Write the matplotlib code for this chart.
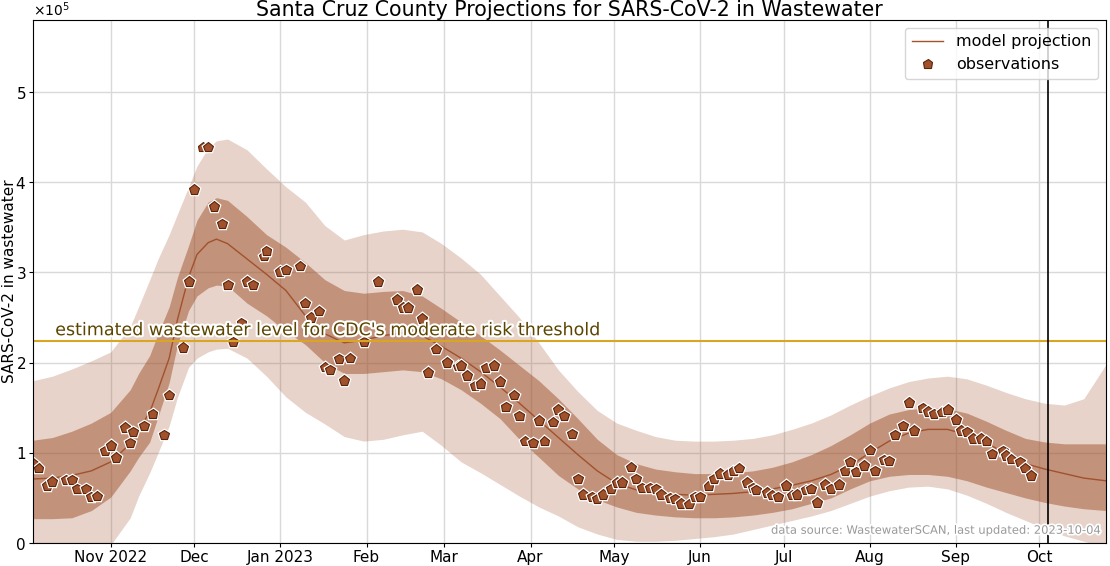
import matplotlib
matplotlib.use("Agg")
import matplotlib.pyplot as plt
import matplotlib.patheffects as pe
import numpy as np
import pandas as pd

# days are counted from this date
start = pd.Timestamp("2022-10-04")
last_update = pd.Timestamp("2023-10-04")
x_end = pd.Timestamp("2023-10-25")

# model projection (values in units of 1e5)
model_day = [0, 7, 14, 21, 28, 35, 38, 42, 45, 49, 52, 56, 59, 63, 66, 70, 77, 84, 91, 98,
             105, 112, 119, 126, 133, 140, 147, 154, 161, 168, 175, 182, 189, 196, 203,
             210, 217, 224, 231, 238, 245, 252, 259, 266, 273, 280, 287, 294, 301, 308,
             315, 322, 329, 336, 343, 350, 357, 364, 371, 378, 386]
model_mid = [0.71, 0.72, 0.75, 0.80, 0.90, 1.10, 1.26, 1.45, 1.70, 2.05, 2.48, 2.95, 3.20,
             3.33, 3.37, 3.32, 3.15, 2.98, 2.80, 2.52, 2.32, 2.22, 2.25, 2.30, 2.33, 2.30,
             2.18, 2.05, 1.90, 1.73, 1.55, 1.36, 1.17, 0.98, 0.80, 0.66, 0.59, 0.56, 0.54,
             0.53, 0.54, 0.55, 0.57, 0.60, 0.64, 0.69, 0.76, 0.86, 1.00, 1.13, 1.22, 1.26,
             1.26, 1.20, 1.11, 0.99, 0.88, 0.82, 0.77, 0.72, 0.69]
inner_hi = [1.14, 1.17, 1.24, 1.33, 1.45, 1.70, 1.88, 2.08, 2.32, 2.62, 2.95, 3.30, 3.58,
            3.78, 3.83, 3.80, 3.62, 3.42, 3.28, 3.11, 2.92, 2.80, 2.77, 2.79, 2.80, 2.74,
            2.60, 2.45, 2.30, 2.14, 1.97, 1.80, 1.60, 1.38, 1.15, 0.98, 0.88, 0.82, 0.79,
            0.77, 0.77, 0.78, 0.80, 0.84, 0.90, 0.98, 1.08, 1.20, 1.33, 1.43, 1.48, 1.50,
            1.49, 1.44, 1.35, 1.25, 1.16, 1.12, 1.10, 1.10, 1.10]
inner_lo = [0.27, 0.27, 0.28, 0.36, 0.51, 0.80, 0.95, 1.12, 1.40, 1.78, 2.20, 2.58, 2.74,
            2.83, 2.86, 2.85, 2.66, 2.52, 2.35, 2.20, 2.00, 1.88, 1.88, 1.90, 1.92, 1.90,
            1.82, 1.70, 1.55, 1.38, 1.15, 0.95, 0.75, 0.60, 0.48, 0.40, 0.34, 0.31, 0.29,
            0.28, 0.28, 0.29, 0.31, 0.34, 0.38, 0.44, 0.50, 0.60, 0.69, 0.74, 0.76, 0.76,
            0.74, 0.69, 0.62, 0.56, 0.50, 0.45, 0.41, 0.38, 0.36]
outer_hi = [1.80, 1.85, 1.93, 2.02, 2.12, 2.40, 2.62, 2.92, 3.15, 3.42, 3.65, 3.95, 4.18,
            4.38, 4.46, 4.48, 4.36, 4.15, 3.95, 3.78, 3.52, 3.36, 3.42, 3.46, 3.48, 3.45,
            3.32, 3.16, 2.98, 2.74, 2.50, 2.22, 1.92, 1.68, 1.47, 1.33, 1.25, 1.18, 1.14,
            1.13, 1.13, 1.14, 1.16, 1.20, 1.26, 1.33, 1.42, 1.53, 1.63, 1.72, 1.79, 1.83,
            1.85, 1.82, 1.75, 1.67, 1.60, 1.55, 1.53, 1.60, 1.98]
outer_lo = [-0.05, -0.05, -0.05, -0.05, -0.02, 0.28, 0.52, 0.78, 1.00, 1.30, 1.62, 1.95,
            2.05, 2.12, 2.15, 2.16, 2.05, 1.85, 1.62, 1.45, 1.32, 1.18, 1.13, 1.15, 1.20,
            1.24, 1.08, 0.90, 0.78, 0.65, 0.52, 0.40, 0.30, 0.18, 0.10, 0.04, 0.02, 0.02,
            0.03, 0.05, 0.07, 0.10, 0.15, 0.20, 0.25, 0.30, 0.36, 0.44, 0.52, 0.58, 0.62,
            0.63, 0.60, 0.53, 0.44, 0.34, 0.25, 0.16, 0.08, 0.02, -0.05]

# observations (values in units of 1e5)
obs_day = [0, 2, 5, 7, 12, 14, 16, 19, 21, 23, 26, 28, 30, 33, 35, 36, 40, 43, 47, 49,
           54, 56, 58, 61, 63, 65, 68, 70, 72, 75, 77, 79, 83, 84, 89, 91, 96, 98, 100,
           103, 105, 107, 110, 112, 114, 119, 124, 131, 133, 135, 138, 140, 142, 145,
           149, 153, 154, 156, 159, 161, 163, 166, 168, 170, 173, 175, 177, 180, 182,
           184, 187, 189, 191, 194, 196, 198, 201, 203, 205, 208, 210, 212, 215, 217,
           219, 222, 224, 226, 229, 231, 233, 236, 238, 240, 243, 245, 247, 250, 252,
           254, 257, 259, 260, 264, 266, 268, 271, 273, 275, 278, 280, 282, 285, 287,
           290, 292, 294, 296, 299, 301, 303, 306, 308, 310, 313, 315, 317, 320, 322,
           324, 327, 329, 332, 334, 336, 338, 341, 343, 345, 349, 350, 352, 355, 357, 359]
obs_val = [0.88, 0.83, 0.64, 0.68, 0.70, 0.70, 0.60, 0.60, 0.51, 0.52, 1.02, 1.08, 0.95,
           1.28, 1.11, 1.23, 1.30, 1.43, 1.20, 1.64, 2.17, 2.90, 3.92, 4.39, 4.39, 3.73,
           3.54, 2.86, 2.23, 2.44, 2.90, 2.86, 3.18, 3.24, 3.01, 3.03, 3.07, 2.66, 2.50,
           2.57, 1.95, 1.92, 2.04, 1.80, 2.05, 2.23, 2.90, 2.70, 2.61, 2.61, 2.81, 2.49,
           1.89, 2.15, 2.00, 1.96, 1.97, 1.86, 1.74, 1.77, 1.94, 1.97, 1.79, 1.51, 1.64,
           1.41, 1.13, 1.11, 1.36, 1.13, 1.34, 1.48, 1.41, 1.21, 0.71, 0.54, 0.51, 0.49,
           0.54, 0.60, 0.67, 0.67, 0.84, 0.71, 0.61, 0.61, 0.60, 0.54, 0.50, 0.49, 0.44,
           0.43, 0.51, 0.51, 0.63, 0.71, 0.77, 0.76, 0.80, 0.83, 0.67, 0.61, 0.59, 0.56,
           0.53, 0.51, 0.64, 0.53, 0.54, 0.59, 0.60, 0.45, 0.65, 0.60, 0.65, 0.80, 0.90,
           0.79, 0.86, 1.03, 0.80, 0.92, 0.91, 1.20, 1.30, 1.56, 1.25, 1.50, 1.46, 1.43,
           1.45, 1.48, 1.37, 1.25, 1.23, 1.16, 1.16, 1.13, 0.99, 1.02, 0.97, 0.93, 0.90,
           0.83, 0.75]

threshold = 2.235

tick_dates = ["2022-11-01", "2022-12-01", "2023-01-01", "2023-02-01", "2023-03-01",
              "2023-04-01", "2023-05-01", "2023-06-01", "2023-07-01", "2023-08-01",
              "2023-09-01", "2023-10-01"]
tick_labels = ["Nov 2022", "Dec", "Jan 2023", "Feb", "Mar", "Apr", "May", "Jun", "Jul",
               "Aug", "Sep", "Oct"]

scale = 1e5
col = "sienna"

mx = start + pd.to_timedelta(model_day, unit="D")
ox = start + pd.to_timedelta(obs_day, unit="D")

fig = plt.figure(figsize=(11.1, 5.66), dpi=100)
ax = fig.add_axes([0.0297, 0.0406, 0.9667, 0.9241])

ax.fill_between(mx, np.array(outer_lo) * scale, np.array(outer_hi) * scale,
                color=col, alpha=0.25, lw=0)
ax.fill_between(mx, np.array(inner_lo) * scale, np.array(inner_hi) * scale,
                color=col, alpha=0.5, lw=0)
ax.plot(mx, np.array(model_mid) * scale, color=col, lw=1.0, label="model projection")
ax.plot(ox, np.array(obs_val) * scale, "p", color=col, markeredgecolor="#5a2208",
        markeredgewidth=0.8, markersize=7.5, linestyle="none", label="observations",
        path_effects=[pe.withStroke(linewidth=2.5, foreground="white")])

ax.axhline(threshold * scale, color="goldenrod", lw=1.5)
ax.text(pd.Timestamp("2022-10-12"), threshold * scale + 2500,
        "estimated wastewater level for CDC's moderate risk threshold",
        color="#5c4500", fontsize=12.6, va="bottom", ha="left",
        path_effects=[pe.withStroke(linewidth=3, foreground="white")])

ax.axvline(last_update, color="black", lw=1.2)

ax.text(0.995, 0.012, "data source: WastewaterSCAN, last updated: 2023-10-04",
        transform=ax.transAxes, ha="right", va="bottom", fontsize=8.3, color="#999999",
        path_effects=[pe.withStroke(linewidth=2.5, foreground="white")])

ax.set_xlim(start, x_end)
ax.set_ylim(0, 5.8e5)
ax.set_xticks([pd.Timestamp(d) for d in tick_dates])
ax.set_xticklabels(tick_labels)
ax.set_yticks(np.arange(0, 6) * scale)
ax.ticklabel_format(axis="y", style="sci", scilimits=(0, 0), useMathText=True)
ax.tick_params(axis="both", labelsize=11, length=3, pad=2)
ax.yaxis.get_offset_text().set_fontsize(10)
ax.grid(True, color="#d9d9d9", lw=1)
ax.set_axisbelow(True)
ax.set_ylabel("SARS-CoV-2 in wastewater", fontsize=11)
ax.yaxis.set_label_coords(-0.0145, 0.5)
ax.set_title("Santa Cruz County Projections for SARS-CoV-2 in Wastewater", fontsize=14.8,
             pad=-1)
ax.legend(loc="upper right", fontsize=11.5, framealpha=0.8)

fig.savefig("out.png", dpi=100)
